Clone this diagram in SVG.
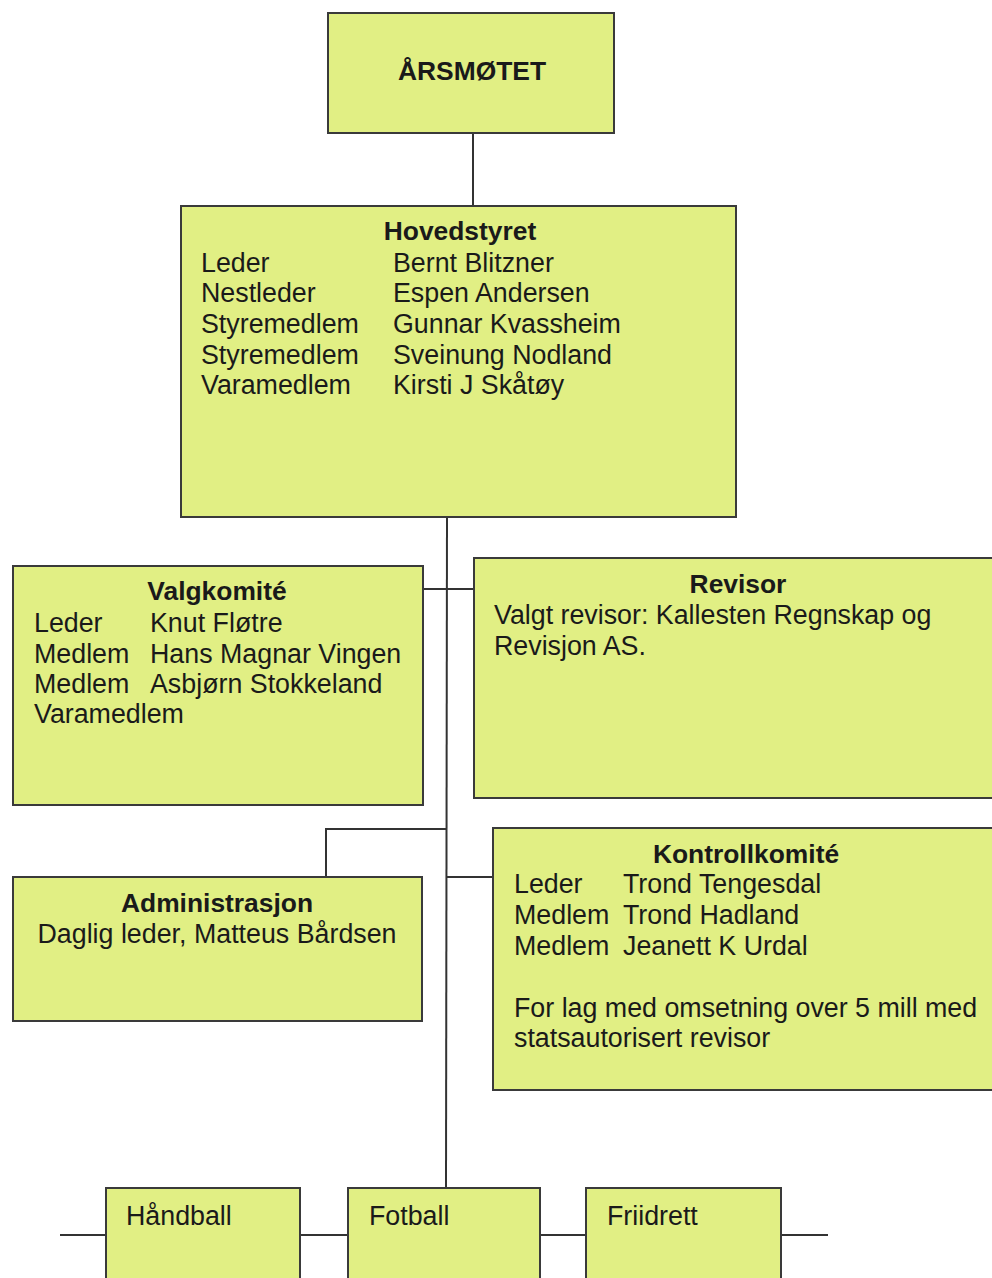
<svg xmlns="http://www.w3.org/2000/svg" width="992" height="1278" viewBox="0 0 992 1278">
<style>
.box{fill:#e1ef84;stroke:#3a3a3a;stroke-width:2}
.t{font-family:"Liberation Sans",Arial,sans-serif;font-size:26.8px;fill:#1a1a1a}
.b{font-weight:bold;font-size:26.4px}
.c{text-anchor:middle}
.ln{stroke:#333;stroke-width:2;fill:none}
</style>
<rect width="992" height="1278" fill="#ffffff"/>
<g id="connectors">
<line class="ln" x1="473" y1="133" x2="473" y2="206"/>
<line class="ln" x1="447" y1="517" x2="446" y2="1188"/>
<line class="ln" x1="423" y1="589" x2="474" y2="589"/>
<polyline class="ln" points="326,877 326,829 447,829"/>
<line class="ln" x1="447" y1="877" x2="493" y2="877"/>
<line class="ln" x1="60" y1="1235" x2="106" y2="1235"/>
<line class="ln" x1="300" y1="1235" x2="348" y2="1235"/>
<line class="ln" x1="540" y1="1235" x2="586" y2="1235"/>
<line class="ln" x1="781" y1="1235" x2="828" y2="1235"/>
</g>
<g id="arsmotet">
<rect class="box" x="328" y="13" width="286" height="120"/>
<text class="t b c" x="472" y="80">ÅRSMØTET</text>
</g>
<g id="hovedstyret">
<rect class="box" x="181" y="206" width="555" height="311"/>
<text class="t b c" x="460" y="240">Hovedstyret</text>
<text class="t" x="201" y="272">Leder</text>
<text class="t" x="201" y="302">Nestleder</text>
<text class="t" x="201" y="333">Styremedlem</text>
<text class="t" x="201" y="364">Styremedlem</text>
<text class="t" x="201" y="394">Varamedlem</text>
<text class="t" x="393" y="272">Bernt Blitzner</text>
<text class="t" x="393" y="302">Espen Andersen</text>
<text class="t" x="393" y="333">Gunnar Kvassheim</text>
<text class="t" x="393" y="364">Sveinung Nodland</text>
<text class="t" x="393" y="394">Kirsti J Skåtøy</text>
</g>
<g id="valgkomite">
<rect class="box" x="13" y="566" width="410" height="239"/>
<text class="t b c" x="217" y="600">Valgkomité</text>
<text class="t" x="34" y="632">Leder</text>
<text class="t" x="34" y="663">Medlem</text>
<text class="t" x="34" y="693">Medlem</text>
<text class="t" x="34" y="723">Varamedlem</text>
<text class="t" x="150" y="632">Knut Fløtre</text>
<text class="t" x="150" y="663">Hans Magnar Vingen</text>
<text class="t" x="150" y="693">Asbjørn Stokkeland</text>
</g>
<g id="revisor">
<rect class="box" x="474" y="558" width="530" height="240"/>
<text class="t b c" x="738" y="593">Revisor</text>
<text class="t" x="494" y="624">Valgt revisor: Kallesten Regnskap og</text>
<text class="t" x="494" y="655">Revisjon AS.</text>
</g>
<g id="administrasjon">
<rect class="box" x="13" y="877" width="409" height="144"/>
<text class="t b c" x="217" y="912">Administrasjon</text>
<text class="t c" x="217" y="943">Daglig leder, Matteus Bårdsen</text>
</g>
<g id="kontrollkomite">
<rect class="box" x="493" y="828" width="510" height="262"/>
<text class="t b c" x="746" y="863">Kontrollkomité</text>
<text class="t" x="514" y="893">Leder</text>
<text class="t" x="514" y="924">Medlem</text>
<text class="t" x="514" y="955">Medlem</text>
<text class="t" x="623" y="893">Trond Tengesdal</text>
<text class="t" x="623" y="924">Trond Hadland</text>
<text class="t" x="623" y="955">Jeanett K Urdal</text>
<text class="t" x="514" y="1017">For lag med omsetning over 5 mill med</text>
<text class="t" x="514" y="1047">statsautorisert revisor</text>
</g>
<g id="handball">
<rect class="box" x="106" y="1188" width="194" height="100"/>
<text class="t" x="126" y="1225">Håndball</text>
</g>
<g id="fotball">
<rect class="box" x="348" y="1188" width="192" height="100"/>
<text class="t" x="369" y="1225">Fotball</text>
</g>
<g id="friidrett">
<rect class="box" x="586" y="1188" width="195" height="100"/>
<text class="t" x="607" y="1225">Friidrett</text>
</g>
</svg>
